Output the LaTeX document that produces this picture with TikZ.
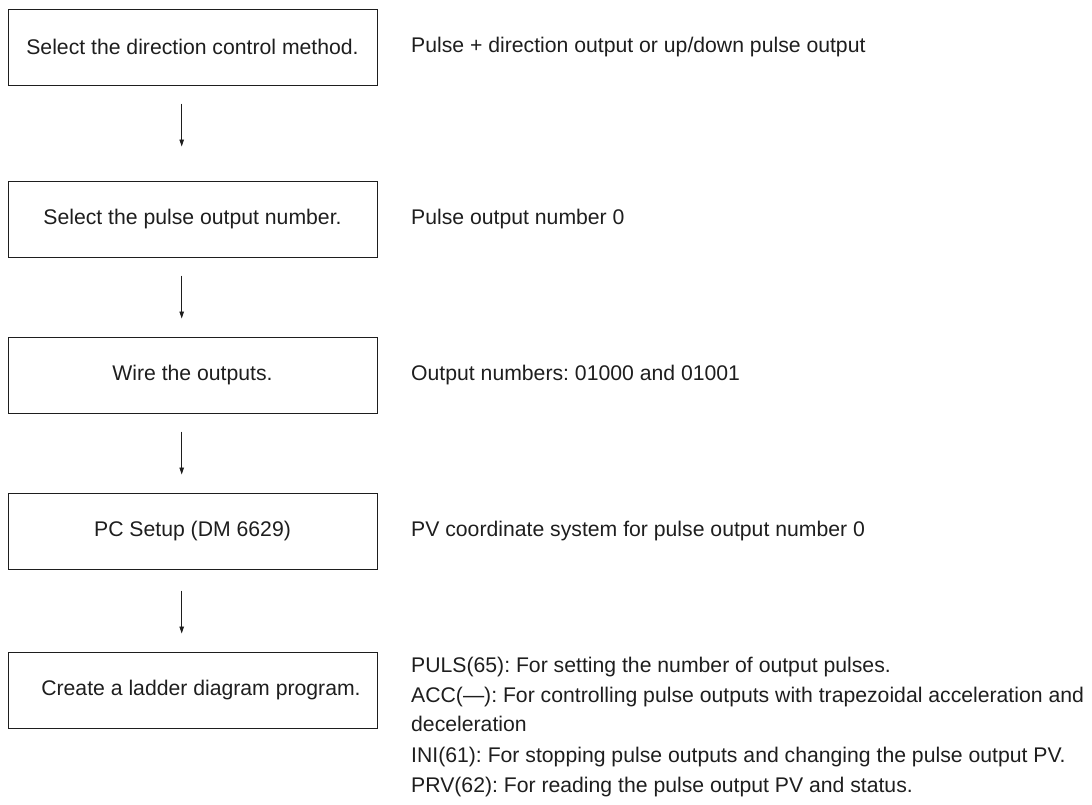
\documentclass[tikz,border=0pt]{standalone}
\usepackage{fontspec}
\setmainfont{Liberation Sans}
\usepackage{tikz}
\usetikzlibrary{arrows.meta,positioning,calc}
\definecolor{ink}{RGB}{30,30,30}
\frenchspacing

\begin{document}
\begin{tikzpicture}[x=1pt,y=-1pt,>={Triangle[length=7pt,width=4.5pt]},font=\fontsize{21.2}{29}\selectfont]
\tikzset{stepbox/.style={draw=ink,line width=1pt,minimum width=369pt,minimum height=76pt,inner sep=0pt,text=ink},
  flow/.style={->,line width=0.9pt,draw=ink,shorten <=18pt,shorten >=18pt},
  note/.style={anchor=west,inner sep=0pt,text=ink},
  item/.style={anchor=base west,inner sep=0pt,text=ink,align=left}}
\useasboundingbox (0,0) rectangle (1092,804);
\node[stepbox] (b1) at (192.5,47) {Select the direction control method.};
\node[stepbox] (b2) at (192.5,219) {Select the pulse output number.};
\node[stepbox] (b3) at (192.5,375) {Wire the outputs.};
\node[stepbox] (b4) at (192.5,531) {PC Setup (DM 6629)};
\node[stepbox] (b5) at (192.5,690) {\hspace{17pt}Create a ladder diagram program.};
\draw[flow,shorten >=34pt] ([xshift=-10.8pt]b1.south) -- ([xshift=-10.8pt]b2.north);
\draw[flow] ([xshift=-10.8pt]b2.south) -- ([xshift=-10.8pt]b3.north);
\draw[flow] ([xshift=-10.8pt]b3.south) -- ([xshift=-10.8pt]b4.north);
\draw[flow,shorten <=21pt] ([xshift=-10.8pt]b4.south) -- ([xshift=-10.8pt]b5.north);
\node[note] (n1) at (411,47) {Pulse + direction output or up/down pulse output};
\node[note] (n2) at (411,219) {Pulse output number 0};
\node[note] (n3) at (411,375) {Output numbers: 01000 and 01001};
\node[note] (n4) at (411,531) {PV coordinate system for pulse output number 0};
\node[item] (p1) at (411,672.5) {PULS(65): For setting the number of output pulses.};
% base of a two-line node is its last line
\node[item] (p2) at (411,731.5) {ACC(---): For controlling pulse outputs with trapezoidal acceleration and\\deceleration};
\node[item] (p3) at (411,762.5) {INI(61): For stopping pulse outputs and changing the pulse output PV.};
\node[item] (p4) at (411,792.5) {PRV(62): For reading the pulse output PV and status.};
\end{tikzpicture}
\end{document}
